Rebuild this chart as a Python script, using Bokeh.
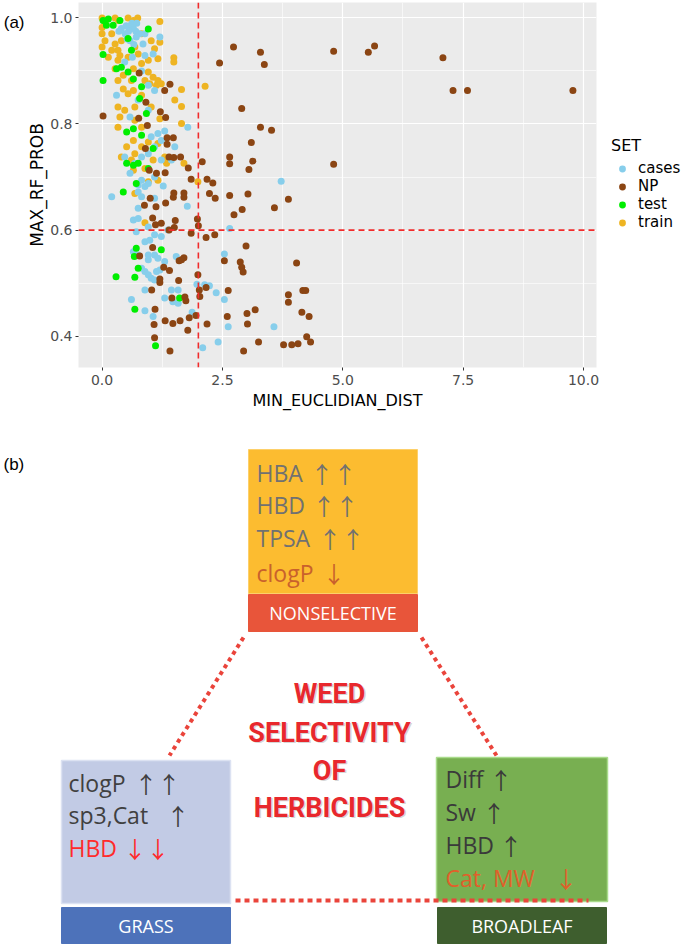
from bokeh.plotting import figure
from bokeh.models import (Range1d, FixedTicker, Span, Legend, LegendItem, LinearAxis,
                          CustomJSTickFormatter)
from bokeh.layouts import row
from bokeh.embed import file_html
from bokeh.resources import INLINE
from bokeh.core.properties import value

# ---------------- panel (a) data ----------------
set_names = ["cases", "NP", "test", "train"]
set_colors = ["#87CEEB", "#8B4513", "#00EE00", "#EEB422"]

np_x = [9.78, 7.59, 7.29, 7.08, 5.66, 5.53, 4.81, 4.81, 2.73, 3.29,
        2.44, 3.37, 2.90, 3.29, 3.52, 3.10, 2.65, 2.65, 3.13, 3.05,
        2.08, 2.18, 2.30, 2.23, 2.35, 2.65, 3.03, 3.87, 3.58, 2.91,
        2.74, 2.16, 2.34, 2.99, 2.54, 2.87, 2.90, 2.93, 4.04, 2.16,
        2.62, 3.87, 3.87, 4.17, 4.23, 4.15, 4.30, 3.18, 3.01, 2.60,
        3.02, 2.18, 3.25, 2.94, 3.77, 3.94, 4.07, 4.25, 4.33, 1.30,
        1.41, 0.91, 0.77, 0.02, 0.76, 0.94, 1.21, 1.32, 1.35, 1.48,
        1.35, 0.90, 0.98, 1.13, 1.31, 1.39, 1.49, 1.63, 1.79, 1.85,
        1.49, 1.70, 1.70, 1.48, 1.00, 0.88, 1.12, 1.32, 1.05, 1.11,
        1.23, 1.52, 1.50, 1.39, 1.85, 1.98, 2.00, 1.05, 0.78, 1.28,
        1.40, 1.60, 1.70, 1.65, 1.20, 1.20, 1.03, 1.59, 1.99, 2.02,
        2.03, 1.45, 1.72, 1.74, 1.10, 1.95, 1.81, 1.62, 1.31, 1.47,
        1.08, 1.78, 1.09, 1.41]
np_y = [0.863, 0.863, 0.863, 0.925, 0.947, 0.935, 0.937, 0.724, 0.945, 0.935,
        0.915, 0.912, 0.829, 0.794, 0.788, 0.765, 0.738, 0.725, 0.730, 0.714,
        0.729, 0.696, 0.689, 0.669, 0.660, 0.665, 0.668, 0.658, 0.642, 0.639,
        0.629, 0.586, 0.591, 0.570, 0.542, 0.540, 0.530, 0.521, 0.538, 0.492,
        0.486, 0.478, 0.464, 0.486, 0.486, 0.445, 0.437, 0.450, 0.443, 0.437,
        0.423, 0.423, 0.389, 0.372, 0.384, 0.384, 0.386, 0.399, 0.389, 0.863,
        0.875, 0.841, 0.896, 0.815, 0.811, 0.797, 0.823, 0.812, 0.774, 0.774,
        0.762, 0.754, 0.713, 0.707, 0.708, 0.738, 0.737, 0.738, 0.717, 0.696,
        0.670, 0.670, 0.662, 0.662, 0.660, 0.647, 0.644, 0.651, 0.623, 0.610,
        0.613, 0.618, 0.605, 0.600, 0.594, 0.621, 0.608, 0.567, 0.551, 0.530,
        0.524, 0.542, 0.548, 0.544, 0.508, 0.501, 0.487, 0.505, 0.516, 0.487,
        0.475, 0.472, 0.474, 0.467, 0.451, 0.439, 0.435, 0.429, 0.429, 0.424,
        0.422, 0.411, 0.397, 0.372]

cases_x = [0.40, 0.50, 0.58, 0.65, 0.70, 0.78, 0.55, 0.62, 0.72, 0.48,
           1.20, 0.85, 0.89, 0.71, 0.58, 0.47, 0.63, 0.82, 0.89, 1.06,
           1.09, 0.96, 0.30, 0.58, 0.96, 0.75, 1.78, 1.51, 1.30, 1.02,
           1.16, 1.23, 1.09, 0.96, 0.82, 0.68, 0.47, 0.58, 0.82, 0.89,
           0.75, 1.09, 1.44, 1.23, 3.72, 0.20, 0.75, 0.96, 1.27, 0.82,
           1.09, 0.75, 0.65, 0.75, 0.71, 0.96, 1.09, 1.23, 1.37, 0.89,
           0.99, 0.65, 0.75, 0.96, 1.09, 1.16, 0.96, 1.54, 1.30, 0.82,
           0.89, 0.96, 1.02, 1.09, 1.13, 1.20, 1.77, 1.97, 0.89, 1.44,
           1.58, 1.30, 1.47, 1.58, 0.61, 0.89, 1.06, 1.87, 2.13, 2.23,
           2.37, 2.54, 2.54, 2.65, 2.62, 2.41, 2.09, 3.57, 0.35, 0.52,
           0.66]
cases_y = [0.980, 0.985, 0.985, 0.980, 0.975, 0.970, 0.975, 0.990, 0.990, 0.970,
           0.964, 0.951, 0.970, 0.964, 0.957, 0.917, 0.926, 0.900, 0.929, 0.932,
           0.863, 0.873, 0.854, 0.813, 0.826, 0.845, 0.794, 0.757, 0.787, 0.776,
           0.782, 0.769, 0.757, 0.744, 0.738, 0.726, 0.738, 0.707, 0.694, 0.682,
           0.672, 0.700, 0.732, 0.732, 0.692, 0.663, 0.685, 0.688, 0.683, 0.663,
           0.660, 0.641, 0.619, 0.622, 0.597, 0.606, 0.591, 0.588, 0.600, 0.578,
           0.581, 0.559, 0.553, 0.553, 0.553, 0.547, 0.544, 0.550, 0.541, 0.528,
           0.522, 0.516, 0.509, 0.506, 0.522, 0.525, 0.645, 0.498, 0.487, 0.487,
           0.487, 0.472, 0.465, 0.462, 0.469, 0.448, 0.437, 0.445, 0.497, 0.495,
           0.482, 0.469, 0.555, 0.603, 0.418, 0.389, 0.378, 0.418, 0.975, 0.960,
           0.950]

test_x = [0.02, 0.13, 0.23, 0.09, 0.37, 0.96, 0.02, 0.54, 0.61, 0.30,
          0.40, 0.54, 0.02, 0.65, 0.82, 0.78, 0.92, 0.51, 0.65, 0.82,
          1.06, 0.51, 0.65, 0.75, 0.96, 0.44, 0.71, 0.71, 0.67, 1.23,
          0.75, 0.29, 0.68, 0.68, 1.11, 1.61]
test_y = [0.995, 0.998, 0.986, 0.986, 0.995, 0.979, 0.931, 0.961, 0.939, 0.904,
          0.907, 0.898, 0.882, 0.885, 0.870, 0.848, 0.820, 0.785, 0.791, 0.779,
          0.754, 0.726, 0.722, 0.726, 0.716, 0.672, 0.688, 0.566, 0.550, 0.563,
          0.528, 0.512, 0.511, 0.451, 0.382, 0.472]

train_x = [0.00, 0.06, 0.27, 0.54, 0.74, 0.34, 0.65, 1.20, 0.00, 0.00,
           0.06, 0.00, 0.20, 0.27, 0.40, 0.33, 0.37, 0.20, 0.13, 0.82,
           1.02, 0.68, 1.20, 1.09, 0.75, 0.54, 0.96, 1.16, 1.49, 1.49,
           0.33, 0.27, 0.65, 0.82, 0.44, 0.33, 0.61, 0.96, 1.06, 1.16,
           0.89, 0.99, 1.13, 1.23, 1.65, 2.14, 0.44, 0.65, 0.54, 0.82,
           0.33, 0.47, 0.68, 1.02, 1.51, 1.65, 1.20, 1.65, 0.37, 0.33,
           0.68, 0.82, 0.65, 0.82, 0.68, 0.96, 1.16, 1.30, 1.34, 1.06,
           1.70, 0.51, 0.40, 0.61, 0.65, 0.89, 1.16, 0.96, 1.99, 0.68,
           0.89]
train_y = [1.000, 0.992, 1.000, 1.000, 1.000, 0.995, 0.995, 0.993, 0.982, 0.970,
           0.957, 0.945, 0.970, 0.951, 0.957, 0.939, 0.929, 0.939, 0.926, 0.970,
           0.957, 0.945, 0.954, 0.942, 0.932, 0.926, 0.920, 0.923, 0.925, 0.917,
           0.920, 0.904, 0.904, 0.914, 0.892, 0.882, 0.882, 0.898, 0.888, 0.882,
           0.882, 0.876, 0.873, 0.876, 0.865, 0.871, 0.866, 0.863, 0.857, 0.854,
           0.832, 0.826, 0.832, 0.832, 0.845, 0.833, 0.810, 0.801, 0.813, 0.794,
           0.807, 0.794, 0.769, 0.757, 0.744, 0.766, 0.763, 0.738, 0.726, 0.732,
           0.726, 0.757, 0.738, 0.732, 0.713, 0.716, 0.694, 0.691, 0.691, 0.669,
           0.614]

x_ticks = [0, 2.5, 5, 7.5, 10]
x_tick_labels = ["0.0", "2.5", "5.0", "7.5", "10.0"]
x_minor = [1.25, 3.75, 6.25, 8.75]
y_ticks = [0.4, 0.6, 0.8, 1.0]
y_tick_labels = ["0.4", "0.6", "0.8", "1.0"]
y_minor = [0.5, 0.7, 0.9]
x_cut = 2.0
y_cut = 0.6
panel_a_tag = "(a)"
panel_b_tag = "(b)"

# ---------------- panel (b) texts ----------------
nonsel_names = ["HBA", "HBD", "TPSA", "clogP"]
nonsel_arrows = ["\u2191\u2191", "\u2191\u2191", "\u2191\u2191", "\u2193"]
nonsel_colors = ["#717171", "#717171", "#717171", "#C9612C"]
grass_names = ["clogP", "sp3,Cat", "HBD"]
grass_arrows = ["\u2191\u2191", "\u2191", "\u2193\u2193"]
grass_colors = ["#404040", "#404040", "#FF2B2B"]
broad_names = ["Diff", "Sw", "HBD", "Cat, MW"]
broad_arrows = ["\u2191", "\u2191", "\u2191", "\u2193"]
broad_colors = ["#3A3A3A", "#3A3A3A", "#3A3A3A", "#E0602A"]
center_lines = ["WEED", "SELECTIVITY", "OF", "HERBICIDES"]
box_labels = ["NONSELECTIVE", "GRASS", "BROADLEAF"]

# ================= panel (a) =================
p1 = figure(width=602, height=412, output_backend="svg", toolbar_location=None,
            x_range=Range1d(-0.49, 10.27), y_range=Range1d(0.341, 1.029),
            min_border_left=77, min_border_right=6, min_border_top=2,
            min_border_bottom=44)
p1.background_fill_color = "#EBEBEB"
p1.border_fill_color = "white"
p1.outline_line_color = None

p1.xaxis.ticker = FixedTicker(ticks=x_ticks, minor_ticks=x_minor)
p1.yaxis.ticker = FixedTicker(ticks=y_ticks, minor_ticks=y_minor)
p1.xaxis.major_label_overrides = {t: l for t, l in zip(x_ticks, x_tick_labels)}
p1.yaxis.major_label_overrides = {t: l for t, l in zip(y_ticks, y_tick_labels)}
for ax in (p1.xaxis, p1.yaxis):
    ax.axis_line_color = None
    ax.minor_tick_line_color = None
    ax.major_tick_line_color = "#333333"
    ax.major_tick_in = 0
    ax.major_tick_out = 3
    ax.major_label_text_font = "DejaVu Sans"
    ax.major_label_text_font_size = "14px"
    ax.major_label_text_color = "#4D4D4D"
    ax.major_label_standoff = 2
    ax.axis_label_text_font = "DejaVu Sans"
    ax.axis_label_text_font_style = "normal"
    ax.axis_label_text_color = "black"
p1.xaxis.major_label_standoff = 3
p1.xaxis.axis_label_standoff = 3
p1.xaxis.axis_label_text_font_size = "16px"
p1.yaxis.axis_label_standoff = 0
p1.yaxis.axis_label_text_font_size = "17px"
p1.xaxis.axis_label = "MIN_EUCLIDIAN_DIST"
p1.yaxis.axis_label = "MAX_RF_PROB"

# panel tag "(a)" as the single label of an outer left axis
tag_axis = LinearAxis(ticker=FixedTicker(ticks=[0.991], minor_ticks=[]),
                      formatter=CustomJSTickFormatter(code="return '%s'" % panel_a_tag))
tag_axis.axis_line_color = None
tag_axis.major_tick_line_color = None
tag_axis.minor_tick_line_color = None
tag_axis.major_tick_out = 0
tag_axis.major_label_standoff = 0
tag_axis.major_label_text_font = "Liberation Sans"
tag_axis.major_label_text_font_size = "17px"
tag_axis.major_label_text_color = "black"
p1.add_layout(tag_axis, "left")

p1.grid.grid_line_color = "white"
p1.grid.grid_line_width = 1.2
p1.grid.minor_grid_line_color = "white"
p1.grid.minor_grid_line_width = 0.6

series = {
    "cases": (cases_x, cases_y),
    "NP": (np_x, np_y),
    "test": (test_x, test_y),
    "train": (train_x, train_y),
}
color_of = dict(zip(set_names, set_colors))
for name in ["train", "cases", "test", "NP"]:
    xs, ys = series[name]
    p1.scatter(xs, ys, size=7, fill_color=color_of[name], line_color=None)

p1.add_layout(Span(location=x_cut, dimension="height", line_color="#F22B2B",
                   line_dash="6 4", line_width=1.6))
p1.add_layout(Span(location=y_cut, dimension="width", line_color="#F22B2B",
                   line_dash="6 4", line_width=1.6))

# ---- legend in a narrow companion figure to the right ----
p_leg = figure(width=83, height=412, output_backend="svg", toolbar_location=None,
               x_range=Range1d(0, 1), y_range=Range1d(0, 1),
               min_border_left=0, min_border_right=0, min_border_top=2,
               min_border_bottom=44)
p_leg.outline_line_color = None
p_leg.axis.visible = False
p_leg.grid.visible = False
p_leg.background_fill_color = "white"
leg_items = []
for name in set_names:
    # off-range stand-in point: only its legend key is visible
    r = p_leg.scatter(x=[5], y=[5], size=7, fill_color=color_of[name], line_color=None)
    leg_items.append(LegendItem(label=name, renderers=[r]))
legend = Legend(items=leg_items, location=(9, 136), title="SET")
legend.title_text_font = "DejaVu Sans"
legend.title_text_font_size = "16px"
legend.title_text_font_style = "normal"
legend.title_text_color = "black"
legend.title_standoff = 4
legend.label_text_font = "DejaVu Sans"
legend.label_text_font_size = "15px"
legend.label_text_color = "black"
legend.glyph_width = 22
legend.glyph_height = 17
legend.label_standoff = 5
legend.label_height = 17
legend.spacing = 0
legend.padding = 0
legend.margin = 0
legend.border_line_color = None
legend.background_fill_alpha = 0
p_leg.add_layout(legend)

# ================= panel (b) =================
p2 = figure(width=685, height=534, output_backend="svg", toolbar_location=None,
            x_range=Range1d(0, 685), y_range=Range1d(946, 412),
            min_border=0)
p2.outline_line_color = None
p2.axis.visible = False
p2.grid.visible = False
p2.background_fill_color = "white"
p2.border_fill_color = "white"

p2.text(x=[3], y=[464], text=[panel_b_tag], text_font=value("Liberation Sans"),
        text_font_size="17px", text_baseline="middle", text_color="black")

# boxes
p2.quad(left=[248], right=[417], top=[449], bottom=[593], fill_color="#FCBC30",
        line_color="#FDD06A", line_width=1)
p2.quad(left=[248], right=[417], top=[594], bottom=[631], fill_color="#E8553A",
        line_color="#E8553A")
p2.quad(left=[61], right=[230], top=[760], bottom=[903], fill_color="#C2CBE5",
        line_color="#DCE2F2", line_width=1.5)
p2.quad(left=[61], right=[230], top=[907], bottom=[943], fill_color="#4D72BA",
        line_color="#4D72BA")
p2.quad(left=[436], right=[607], top=[757], bottom=[901], fill_color="#78AF51",
        line_color="#A9DB8B", line_width=1.5)
p2.quad(left=[437], right=[606], top=[907], bottom=[943], fill_color="#3E5E2E",
        line_color="#3E5E2E")

# dotted connectors
dot_col = "#EA443B"
p2.line(x=[243, 169], y=[637, 755], line_color=dot_col, line_width=4, line_dash="4 4")
p2.line(x=[421, 496], y=[637, 755], line_color=dot_col, line_width=4, line_dash="4 4")
p2.line(x=[235, 588], y=[900, 900], line_color=dot_col, line_width=4, line_dash="5 4")

# box texts
body_font = value("Open Sans")
arrow_font = value("Noto Sans CJK JP")
p2.text(x=[256] * 4, y=[472, 504, 537, 572], text=nonsel_names, text_color=nonsel_colors,
        text_font=body_font, text_font_size="23px", text_baseline="middle")
p2.text(x=[310, 312, 318, 322], y=[472, 504, 537, 572], text=nonsel_arrows,
        text_color=nonsel_colors, text_font=arrow_font, text_font_size="23px",
        text_baseline="middle")
p2.text(x=[68] * 3, y=[782, 814, 847], text=grass_names, text_color=grass_colors,
        text_font=body_font, text_font_size="23px", text_baseline="middle")
p2.text(x=[134, 166, 123], y=[782, 814, 847], text=grass_arrows, text_color=grass_colors,
        text_font=arrow_font, text_font_size="23px", text_baseline="middle")
p2.text(x=[445] * 4, y=[778, 811, 844, 877], text=broad_names, text_color=broad_colors,
        text_font=body_font, text_font_size="23px", text_baseline="middle")
p2.text(x=[489, 482, 499, 554], y=[778, 811, 844, 877], text=broad_arrows,
        text_color=broad_colors, text_font=arrow_font, text_font_size="23px",
        text_baseline="middle")

# label texts
p2.text(x=[332.5, 145.5, 521.5], y=[612, 925, 925], text=box_labels, text_color="white",
        text_font=body_font, text_font_size="18px", text_baseline="middle",
        text_align="center")

# center title with soft shadow
cy = [693, 732, 770, 807]
p2.text(x=[330.5] * 4, y=[c + 1.5 for c in cy], text=center_lines, text_color="#8A8A8A",
        text_alpha=0.35, text_font=value("Roboto"), text_font_style="bold",
        text_font_size="27px", text_baseline="middle", text_align="center")
p2.text(x=[329] * 4, y=cy, text=center_lines, text_color="#E8282D",
        text_font=value("Roboto"), text_font_style="bold",
        text_font_size="27px", text_baseline="middle", text_align="center")

open("out.html", "w").write(file_html([row(p1, p_leg), p2], INLINE))
